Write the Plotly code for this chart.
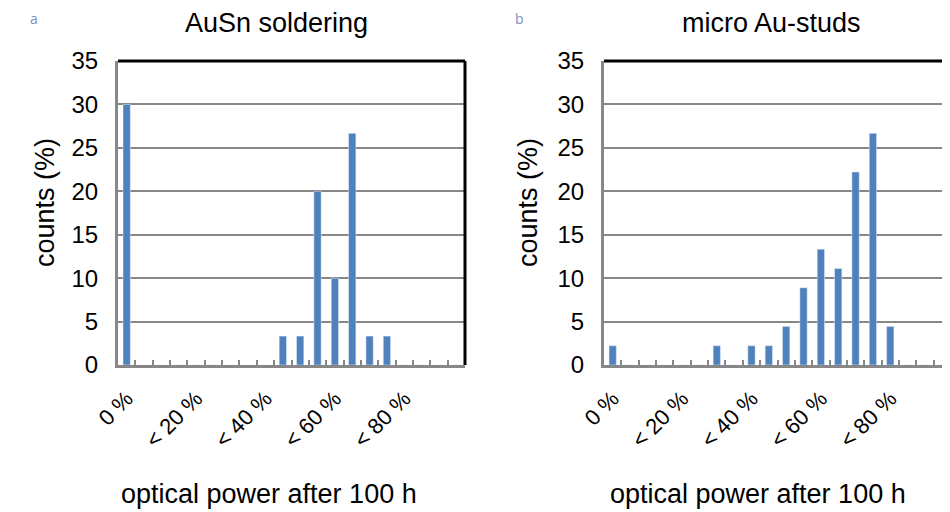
import plotly.graph_objects as go

categories = ["0 %"] + [f"< {p} %" for p in range(5, 100, 5)]
shown_labels = ["0 %", "< 20 %", "< 40 %", "< 60 %", "< 80 %"]
ausn_counts = [30, 0, 0, 0, 0, 0, 0, 0, 0, 3.33, 3.33, 20, 10, 26.67, 3.33, 3.33, 0, 0, 0, 0]
studs_counts = [2.22, 0, 0, 0, 0, 0, 2.22, 0, 2.22, 2.22, 4.44, 8.89, 13.33, 11.11, 22.22, 26.67, 4.44, 0, 0, 0]
panel_titles = ["AuSn soldering", "micro Au-studs"]
panel_letters = ["a", "b"]
y_title = "counts (%)"
x_title = "optical power after 100 h"

W, H = 950, 512
OFF = 8  # page body margin offset compensation
FONT = "Liberation Sans, Arial, sans-serif"
BAR = "#4F81BD"
GRID = "#878787"

ticktext = [c if c in shown_labels else "" for c in categories]

fig = go.Figure()
fig.add_trace(go.Bar(x=categories, y=ausn_counts, marker_color=BAR, width=0.42,
                     xaxis="x", yaxis="y", showlegend=False))
fig.add_trace(go.Bar(x=categories, y=studs_counts, marker_color=BAR, width=0.42,
                     xaxis="x2", yaxis="y2", showlegend=False))

def px(x):
    return (x - OFF) / W

def py(y):
    return 1 - (y - OFF) / H

ydom = [py(365), py(61)]
xdoms = [[px(118), px(465)], [px(604), px(951)]]

common_x = dict(type="category", categoryorder="array", categoryarray=categories,
                tickmode="array", tickvals=categories, ticktext=ticktext,
                tickson="boundaries", ticks="inside", ticklen=5, tickwidth=2,
                tickcolor=GRID, tickangle=-45, showline=True, linecolor=GRID,
                linewidth=3, showgrid=False, zeroline=False, automargin=False,
                ticklabelstandoff=9,
                tickfont=dict(family=FONT, size=22, color="#000000"),
                range=[-0.5, 19.5])
common_y = dict(range=[0, 35], dtick=5, showgrid=True, gridcolor=GRID, gridwidth=2,
                showline=True, linecolor=GRID, linewidth=3, zeroline=False,
                ticks="", ticklabelstandoff=12, automargin=False,
                tickfont=dict(family=FONT, size=24, color="#000000"))

fig.update_layout(
    width=W, height=H, margin=dict(l=0, r=0, t=0, b=0, autoexpand=False),
    paper_bgcolor="white", plot_bgcolor="white", bargap=0.5,
    xaxis=dict(domain=xdoms[0], anchor="y", **common_x),
    yaxis=dict(domain=ydom, anchor="x", **common_y),
    xaxis2=dict(domain=xdoms[1], anchor="y2", **common_x),
    yaxis2=dict(domain=ydom, anchor="x2", **common_y),
)

shapes = []
for xr, yr in (("x domain", "y domain"), ("x2 domain", "y2 domain")):
    shapes.append(dict(type="line", xref=xr, yref=yr, x0=0, x1=1, y0=1, y1=1,
                       line=dict(color="black", width=3)))
shapes.append(dict(type="line", xref="x domain", yref="y domain", x0=1, x1=1, y0=0, y1=1,
                   line=dict(color="black", width=3)))
fig.update_layout(shapes=shapes)

ann = []
title_x = [276, 771]
ytitle_x = [45, 528]
xtitle_x = [269, 758]
letter_x = [33.5, 519]
for i in range(2):
    ann.append(dict(text=panel_titles[i], x=px(title_x[i]), y=py(23), xref="paper", yref="paper",
                    showarrow=False, xanchor="center", yanchor="middle",
                    font=dict(family=FONT, size=27, color="black")))
    ann.append(dict(text=y_title, x=px(ytitle_x[i]), y=py(203), xref="paper", yref="paper",
                    showarrow=False, xanchor="center", yanchor="middle", textangle=-90,
                    font=dict(family=FONT, size=27, color="black")))
    ann.append(dict(text=x_title, x=px(xtitle_x[i]), y=py(494), xref="paper", yref="paper",
                    showarrow=False, xanchor="center", yanchor="middle",
                    font=dict(family=FONT, size=27, color="black")))
    ann.append(dict(text=panel_letters[i], x=px(letter_x[i]), y=1.0, xref="paper", yref="paper",
                    showarrow=False, xanchor="center", yanchor="top", borderpad=0,
                    font=dict(family="Open Sans, sans-serif", size=14, color="#7A90C0")))
fig.update_layout(annotations=ann)

fig.write_html("out.html")
